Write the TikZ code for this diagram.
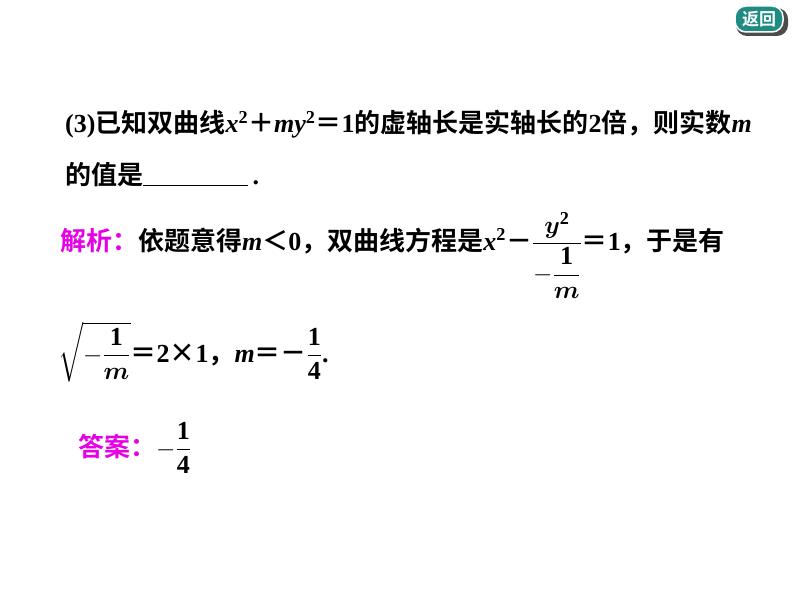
\documentclass[tikz,border=0pt]{standalone}
\usepackage{amsmath,bm}
\usepackage{fontspec}
\setmainfont{Liberation Serif}
\newfontfamily\cjk{Noto Sans CJK SC}[BoldFont={* Bold}]
\definecolor{mag}{RGB}{230,0,230}
\definecolor{btn}{RGB}{30,140,130}
\newcommand{\V}[1]{\textbf{\textit{#1}}}
\newcommand{\C}[1]{{\cjk #1}}
\begin{document}
\begin{tikzpicture}[x=1pt,y=-1pt,
  txt/.style={anchor=base west,inner sep=0pt,font=\fontsize{26}{30}\selectfont\bfseries}]
\useasboundingbox (0,0) rectangle (794,596);
\fill[white] (0,0) rectangle (794,596);
\node[fill=black!70,rounded corners=11pt,minimum width=52pt,minimum height=28pt] (sh) at (762,22) {};
\node[fill=btn,draw=white,line width=1.5pt,rounded corners=11pt,minimum width=48pt,minimum height=26pt,text=white,font=\cjk\bfseries\fontsize{17}{17}\selectfont,inner sep=0pt] (b) at (759,19) {返回};
\node[txt] (l1) at (65,133) {(3)\C{已知双曲线}\V{x}\textsuperscript{2}\C{＋}\V{my}\textsuperscript{2}\C{＝}1\C{的虚轴长是实轴长的}2\C{倍，则实数}\V{m}};
\node[txt] (l2) at (65,184) {\C{的值是}\rule[-2pt]{105pt}{1.3pt}\,.};
\node[txt] (l3) at (60,250) {\textcolor{mag}{\C{解析：}}\C{依题意得}\V{m}\C{＜}0\C{，双曲线方程是}\V{x}\textsuperscript{2}\C{－}$\dfrac{\bm{y}^{\mathbf 2}}{-\dfrac{\mathbf 1}{\bm m}}$\C{＝}1\C{，于是有}};
\node[txt] (l4) at (58,362) {$\sqrt{-\dfrac{\mathbf 1}{\bm m}}$\C{＝}2\C{×}1\C{，}\V{m}\C{＝－}$\dfrac{\mathbf 1}{\mathbf 4}$.};
\node[txt] (l5) at (78,456) {\textcolor{mag}{\C{答案：}}$-\dfrac{\mathbf 1}{\mathbf 4}$};
\end{tikzpicture}
\end{document}
